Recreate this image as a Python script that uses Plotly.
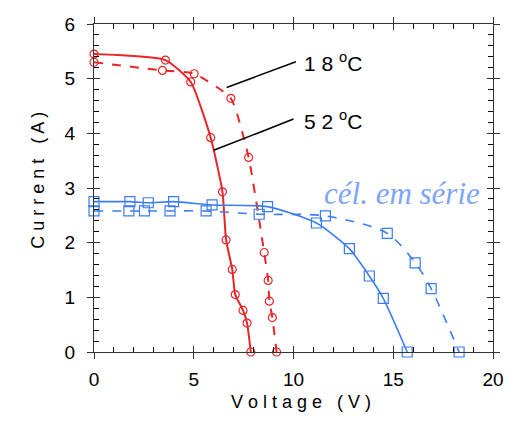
import plotly.graph_objects as go

# 52 °C single cell (solid red)
v52 = [0, 3.58, 4.85, 5.85, 6.44, 6.62, 6.93, 7.08, 7.47, 7.67, 7.86]
i52 = [5.45, 5.34, 4.94, 3.92, 2.93, 2.05, 1.51, 1.05, 0.76, 0.53, 0.0]
# 18 °C single cell (dashed red)
v18 = [0, 3.43, 5.02, 6.86, 7.75, 8.53, 8.73, 8.79, 8.94, 9.15]
i18 = [5.30, 5.15, 5.09, 4.64, 3.56, 1.82, 1.31, 0.93, 0.63, 0.0]
# series cells 52 °C (solid blue)
vs52 = [0, 1.8, 2.72, 3.99, 5.92, 8.7, 11.15, 12.8, 13.8, 14.5, 15.7]
is52 = [2.75, 2.75, 2.73, 2.75, 2.69, 2.66, 2.36, 1.89, 1.39, 0.98, 0.0]
# series cells 18 °C (dashed blue)
vs18 = [0, 1.75, 2.53, 3.81, 5.62, 8.28, 11.6, 14.7, 16.1, 16.9, 18.3]
is18 = [2.58, 2.58, 2.58, 2.58, 2.58, 2.52, 2.49, 2.17, 1.63, 1.16, 0.0]

# leader lines for labels (x0, y0, x1, y1)
lead18 = [6.65, 4.84, 10.12, 5.31]
lead52 = [6.0, 3.69, 10.0, 4.26]
lab18_pos = [10.45, 5.31]
lab52_pos = [10.45, 4.24]
serie_pos = [11.45, 2.9]

RED = "#e8262a"
BLUE = "#3b7cf0"

fig = go.Figure()

def add(v, i, color, dash, symbol, size, lw, sm, xa="x", ya="y"):
    fig.add_trace(go.Scatter(
        x=v, y=i, mode="lines+markers", xaxis=xa, yaxis=ya,
        line=dict(color=color, width=lw, dash=dash, shape="spline", smoothing=sm),
        marker=dict(symbol=symbol, size=size, color="rgba(255,255,255,0)",
                    line=dict(color=color, width=1.2)),
        cliponaxis=False, showlegend=False))

add(v52, i52, RED, "solid", "circle", 8, 2, 0.5)
add(v18, i18, RED, "dash", "circle", 8, 2, 0.5)
add(vs52, is52, BLUE, "solid", "square", 10, 1.6, 0.6)
add(vs18, is18, BLUE, "dash", "square", 10, 1.6, 0.8, "x2", "y2")

for ld in (lead18, lead52):
    fig.add_shape(type="line", x0=ld[0], y0=ld[1], x1=ld[2], y1=ld[3],
                  line=dict(color="black", width=1.6))

lab_font = dict(family="Liberation Sans, Arial", size=21, color="black")
fig.add_annotation(x=lab18_pos[0], y=lab18_pos[1], text="1 8 <sup>o</sup>C", showarrow=False,
                   xanchor="left", yanchor="middle", font=lab_font)
fig.add_annotation(x=lab52_pos[0], y=lab52_pos[1], text="5 2 <sup>o</sup>C", showarrow=False,
                   xanchor="left", yanchor="middle", font=lab_font)
fig.add_annotation(x=serie_pos[0], y=serie_pos[1], text="<i>cél. em série</i>", showarrow=False,
                   xanchor="left", yanchor="middle",
                   font=dict(family="Liberation Serif, Times New Roman", size=31, color="#7ea6f6"))

pw = 516 - 94 - 13
ph = 425 - 24 - 73
title_font = dict(family="Liberation Sans, Arial", size=18, color="black")
fig.add_annotation(x=(306 - 94) / pw, y=(425 - 73 - 414) / ph, xref="paper", yref="paper",
                   text="V o l t a g e   ( V )", showarrow=False, font=title_font)
fig.add_annotation(x=(24 - 94) / pw, y=(425 - 73 - 180) / ph, xref="paper", yref="paper",
                   text="C u r r e n t   ( A )", textangle=-90, showarrow=False, font=title_font)

tick_font = dict(family="Liberation Sans, Arial", size=19, color="black")
AX = "#333333"
common = dict(ticklen=6, tickwidth=1.3, tickcolor=AX, showline=True, linecolor=AX,
              linewidth=1.2, mirror="ticks", showgrid=False)
fig.update_layout(
    width=516, height=425,
    margin=dict(l=94, r=13, t=24, b=73),
    paper_bgcolor="white", plot_bgcolor="white",
    xaxis=dict(range=[0, 20], tickmode="linear", tick0=0, dtick=5, ticks="inside",
               zeroline=False, tickfont=tick_font, ticklabelstandoff=10,
               minor=dict(dtick=1, ticks="inside", ticklen=5, tickcolor="black",
                          tickwidth=1.2), **common),
    yaxis=dict(range=[0, 6], tickmode="linear", tick0=0, dtick=1, ticks="inside",
               zeroline=True, zerolinecolor="black", zerolinewidth=2,
               tickfont=tick_font, ticklabelstandoff=14,
               minor=dict(dtick=0.2, ticks="inside", ticklen=5, tickcolor="black",
                          tickwidth=1.2), **common),
    xaxis2=dict(overlaying="x", anchor="y2", range=[0, 20], tickmode="linear", tick0=0, dtick=5,
                ticks="outside", showticklabels=False, zeroline=False, **common),
    yaxis2=dict(overlaying="y", anchor="x2", range=[0, 6], tickmode="linear", tick0=0, dtick=1,
                ticks="outside", showticklabels=False, zeroline=False, **common),
)

fig.write_html("out.html")
